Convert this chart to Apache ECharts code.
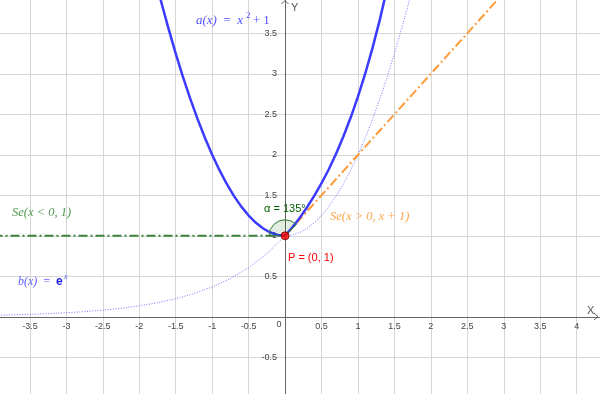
<!DOCTYPE html>
<html>
<head>
<meta charset="utf-8">
<script src="https://cdn.jsdelivr.net/npm/echarts@6/dist/echarts.min.js"></script>
<style>
html,body{margin:0;padding:0;background:#fff;}
#c{width:600px;height:394px;}
</style>
</head>
<body>
<div id="c"></div>
<script>
// ---- data ----
// thick curve, left part: a(x) = x^2 + 1 (x <= 0)
const aLeftX = [-1.8,-1.7,-1.6,-1.5,-1.4,-1.3,-1.2,-1.1,-1.0,-0.9,-0.8,-0.7,-0.6,-0.5,-0.4,-0.3,-0.2,-0.1,0];
const aLeftY = [4.24,3.89,3.56,3.25,2.96,2.69,2.44,2.21,2.00,1.81,1.64,1.49,1.36,1.25,1.16,1.09,1.04,1.01,1];
// thick curve, right part: b(x) = e^x (x >= 0)
const bRightX = [0,0.1,0.2,0.3,0.4,0.5,0.6,0.7,0.8,0.9,1.0,1.1,1.2,1.3,1.4];
const bRightY = [1,1.105,1.221,1.350,1.492,1.649,1.822,2.014,2.226,2.460,2.718,3.004,3.320,3.669,4.055];
// dotted: b(x) = e^x for x <= 0
const bLeftX = [-4,-3.75,-3.5,-3.25,-3,-2.75,-2.5,-2.25,-2,-1.75,-1.5,-1.25,-1,-0.75,-0.5,-0.25,0];
const bLeftY = [0.018,0.024,0.030,0.039,0.050,0.064,0.082,0.105,0.135,0.174,0.223,0.287,0.368,0.472,0.607,0.779,1];
// dotted: a(x) = x^2 + 1 for x >= 0
const aRightX = [0,0.1,0.2,0.3,0.4,0.5,0.6,0.7,0.8,0.9,1.0,1.1,1.2,1.3,1.4,1.5,1.6,1.7,1.8];
const aRightY = [1,1.01,1.04,1.09,1.16,1.25,1.36,1.49,1.64,1.81,2.00,2.21,2.44,2.69,2.96,3.25,3.56,3.89,4.24];
// Se(x<0, 1)
const segLeftX = [-4, 0];
const segLeftY = [1, 1];
// Se(x>0, x+1)
const segRightX = [0, 3.5];
const segRightY = [1, 4.5];
// point P and angle
const pointP = [0, 1];
const angleDeg = 135;
// axes
const xMin = -4, xMax = 4.5, yMin = -1, yMax = 4, step = 0.5;

const zip = (xs, ys) => xs.map((x, i) => [x, ys[i]]);
const fmt = v => (Math.abs(v) < 1e-9 ? '' : String(v));

const chart = echarts.init(document.getElementById('c'), null, {renderer: 'canvas'});
const serif = '"Liberation Serif","DejaVu Serif",serif';
const sans = '"Liberation Sans","DejaVu Sans",sans-serif';

// grid box (pixels): left -6.5 .. 613.1, top -7.2 .. 397.8 ; zero lines at x=285.1, y=316.8
chart.setOption({
  animation: false,
  backgroundColor: '#ffffff',
  grid: {left: -6.5, right: -13.1, top: -7.2, bottom: -3.8, containLabel: false, outerBoundsMode: 'none'},
  xAxis: {
    type: 'value', min: xMin, max: xMax, interval: step, position: 'bottom', offset: -81,
    axisLine: {show: true, onZero: false, lineStyle: {color: '#666', width: 1}},
    axisTick: {show: false},
    splitLine: {show: true, lineStyle: {color: '#d6d6d6', width: 1}},
    axisLabel: {show: true, showMinLabel: false, showMaxLabel: false, margin: 5, hideOverlap: false,
      color: '#444', fontSize: 9, fontFamily: sans, formatter: fmt}
  },
  yAxis: {
    type: 'value', min: yMin, max: yMax, interval: step, position: 'left', offset: -291.6,
    axisLine: {show: true, onZero: false, lineStyle: {color: '#666', width: 1}},
    axisTick: {show: false},
    splitLine: {show: true, lineStyle: {color: '#d6d6d6', width: 1}},
    axisLabel: {show: true, showMinLabel: false, showMaxLabel: false, margin: 8, hideOverlap: false,
      color: '#444', fontSize: 9, fontFamily: sans, formatter: fmt}
  },
  series: [
    {type: 'line', data: zip(bLeftX, bLeftY), showSymbol: false,
      lineStyle: {color: '#7575ff', width: 1, type: [1, 1.6]}, z: 2},
    {type: 'line', data: zip(aRightX, aRightY), showSymbol: false,
      lineStyle: {color: '#7575ff', width: 1, type: [1, 1.6]}, z: 2},
    {type: 'line', data: zip(segLeftX, segLeftY), showSymbol: false,
      lineStyle: {color: '#3a853a', width: 2, type: [9, 3, 2, 3]}, z: 3},
    {type: 'line', data: zip(segRightX, segRightY), showSymbol: false,
      lineStyle: {color: '#ff9a3a', width: 2, type: [9, 3, 2, 3]}, z: 3},
    {type: 'line', data: zip(aLeftX, aLeftY), showSymbol: false,
      lineStyle: {color: '#3b3bff', width: 2.5, join: 'round'}, z: 4},
    {type: 'line', data: zip(bRightX, bRightY), showSymbol: false,
      lineStyle: {color: '#3b3bff', width: 2.5, join: 'round'}, z: 4},
    {type: 'custom', data: [pointP], z: 5,
      renderItem: (params, api) => {
        const c = api.coord([api.value(0), api.value(1)]);
        return {type: 'sector',
          shape: {cx: c[0], cy: c[1], r0: 0, r: 16, startAngle: -Math.PI,
                  endAngle: -Math.PI + angleDeg * Math.PI / 180, clockwise: true},
          style: {fill: 'rgba(0,110,0,0.12)', stroke: '#2f7a2f', lineWidth: 1}};
      }},
    {type: 'scatter', data: [pointP], symbol: 'circle', symbolSize: 8, z: 6,
      itemStyle: {color: '#ff0000', borderColor: '#7a0000', borderWidth: 1}}
  ],
  graphic: [
    {type: 'text', x: 196, y: 21, z: 10, style: {
      text: '{i|a(x)}{n|  =  }{i|x}{n|   + 1}', textVerticalAlign: 'middle',
      rich: {i: {font: 'italic 13px ' + serif, fill: '#5050ff'},
             n: {font: '13px ' + serif, fill: '#5050ff'}}}},
    {type: 'text', x: 246, y: 16, z: 10, style: {text: '2', font: '9px ' + serif, fill: '#5050ff',
      textVerticalAlign: 'middle'}},
    {type: 'text', x: 18, y: 282, z: 10, style: {
      text: '{i|b(x)}{n|  =  }{e|e}', textVerticalAlign: 'middle',
      rich: {i: {font: 'italic 12px ' + serif, fill: '#6060ff'},
             n: {font: '12px ' + serif, fill: '#6060ff'},
             e: {font: 'bold 12px ' + sans, fill: '#2020dd'}}}},
    {type: 'text', x: 64, y: 277, z: 10, style: {text: 'x', font: 'italic 8px ' + serif, fill: '#6060ff',
      textVerticalAlign: 'middle'}},
    {type: 'text', x: 12, y: 213, z: 10, style: {text: 'Se(x < 0, 1)', font: 'italic 12.5px ' + serif,
      fill: '#4f9a4f', textVerticalAlign: 'middle'}},
    {type: 'text', x: 330, y: 217, z: 10, style: {text: 'Se(x > 0, x + 1)', font: 'italic 12.5px ' + serif,
      fill: '#ffa64d', textVerticalAlign: 'middle'}},
    {type: 'text', x: 264, y: 209, z: 10, style: {text: 'α = ' + angleDeg + '°', font: '11px ' + sans,
      fill: '#006400', textVerticalAlign: 'middle'}},
    {type: 'text', x: 288, y: 258, z: 10, style: {text: 'P = (' + pointP[0] + ', ' + pointP[1] + ')', font: '11px ' + sans,
      fill: '#ff0000', textVerticalAlign: 'middle'}},
    {type: 'text', x: 587, y: 311, z: 10, style: {text: 'X', font: '11px ' + sans, fill: '#555',
      textVerticalAlign: 'middle'}},
    {type: 'text', x: 291, y: 8, z: 10, style: {text: 'Y', font: '11px ' + sans, fill: '#555',
      textVerticalAlign: 'middle'}},
    {type: 'text', x: 279, y: 325, z: 10, style: {text: '0', font: '9px ' + sans, fill: '#444',
      textAlign: 'center', textVerticalAlign: 'middle'}},
    {type: 'polyline', z: 10, shape: {points: [[594, 313], [598, 316.5], [594, 320]]},
      style: {stroke: '#666', lineWidth: 1, fill: null}},
    {type: 'polyline', z: 10, shape: {points: [[281.5, 4], [285, 0.5], [288.5, 4]]},
      style: {stroke: '#666', lineWidth: 1, fill: null}}
  ]
});
</script>
</body>
</html>
